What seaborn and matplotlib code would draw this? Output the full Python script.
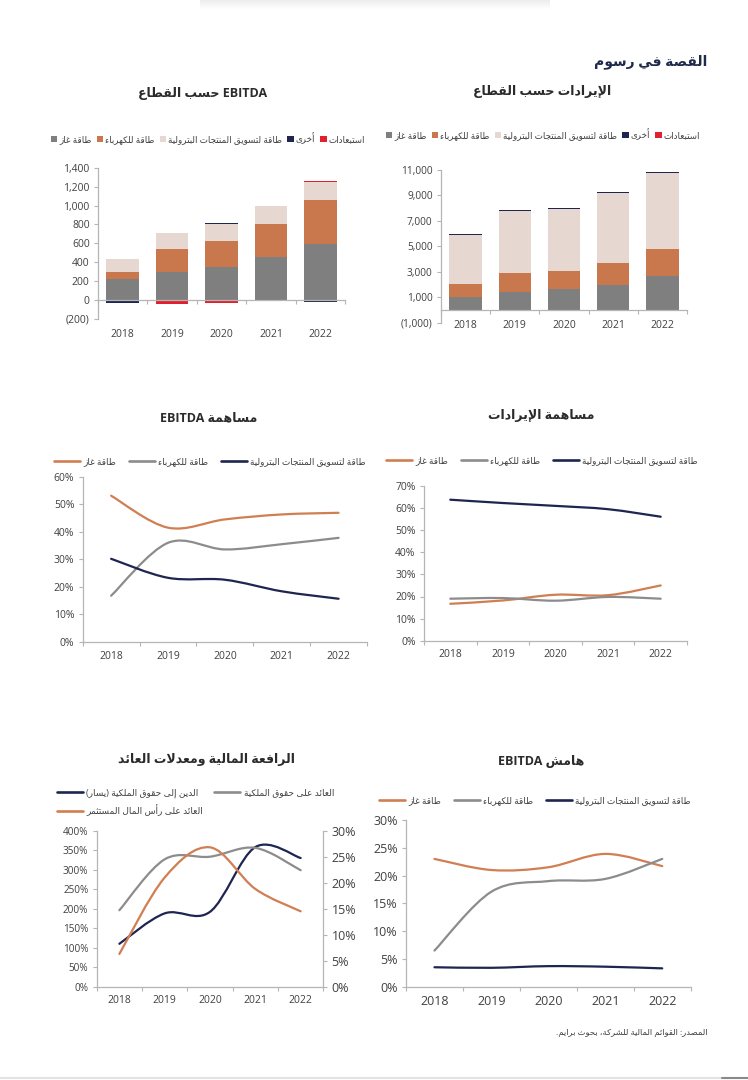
import numpy as np
import matplotlib
matplotlib.use('Agg')
import matplotlib.pyplot as plt
import seaborn as sns
from matplotlib.path import Path
from matplotlib.patches import PathPatch, Patch
from matplotlib.lines import Line2D
from matplotlib.ticker import FuncFormatter

# ---------------- data ----------------
years = ['2018', '2019', '2020', '2021', '2022']

# revenue by segment (mn)
rev_gas = [1000, 1390, 1650, 1970, 2650]
rev_elec = [1050, 1480, 1450, 1710, 2130]
rev_pet = [3870, 4890, 4840, 5530, 6000]
rev_other = [60, 70, 60, 60, 60]
rev_elim = [-60, -60, -60, -60, -60]

# EBITDA by segment (mn)
ebitda_gas = [225, 300, 355, 460, 590]
ebitda_elec = [75, 240, 270, 345, 470]
ebitda_pet = [135, 170, 180, 185, 190]
ebitda_other = [-35, 0, 10, 0, -20]
ebitda_elim = [0, -40, -30, 10, 10]

# contribution to revenue (%)
revc_gas = [16.7, 18.2, 20.8, 20.6, 25.0]
revc_elec = [19.0, 19.3, 18.1, 19.8, 19.0]
revc_pet = [63.8, 62.3, 61.0, 59.5, 56.1]

# contribution to EBITDA (%)
ebc_gas = [53.1, 41.5, 44.5, 46.3, 46.9]
ebc_elec = [16.8, 36.0, 33.6, 35.5, 37.8]
ebc_pet = [30.2, 23.3, 22.6, 18.4, 15.7]

# EBITDA margin (%)
margin_gas = [23.0, 21.0, 21.5, 23.9, 21.7]
margin_elec = [6.5, 17.1, 19.0, 19.4, 23.0]
margin_pet = [3.5, 3.4, 3.7, 3.6, 3.3]

# leverage and returns (%)
debt_equity = [110, 188, 192, 358, 330]
roe = [14.7, 24.5, 25.0, 26.7, 22.4]
roce = [6.3, 21.0, 26.8, 18.8, 14.5]

# labels (logical order)
lbl_gas = 'طاقة غاز'
lbl_elec = 'طاقة للكهرباء'
lbl_pet = 'طاقة لتسويق المنتجات البترولية'
lbl_other = 'أخرى'
lbl_elim = 'استبعادات'
lbl_de = 'الدين إلى حقوق الملكية (يسار)'
lbl_roe = 'العائد على حقوق الملكية'
lbl_roce = 'العائد على رأس المال المستثمر'

# ---------------- arabic shaping (matplotlib has no shaping) ----------------
DUAL = {'ئ': 0xFE89, 'ب': 0xFE8F, 'ت': 0xFE95, 'ث': 0xFE99, 'ج': 0xFE9D, 'ح': 0xFEA1,
        'خ': 0xFEA5, 'س': 0xFEB1, 'ش': 0xFEB5, 'ص': 0xFEB9, 'ض': 0xFEBD, 'ط': 0xFEC1,
        'ظ': 0xFEC5, 'ع': 0xFEC9, 'غ': 0xFECD, 'ف': 0xFED1, 'ق': 0xFED5, 'ك': 0xFED9,
        'ل': 0xFEDD, 'م': 0xFEE1, 'ن': 0xFEE5, 'ه': 0xFEE9, 'ي': 0xFEF1}
RIGHT = {'آ': 0xFE81, 'أ': 0xFE83, 'ؤ': 0xFE85, 'إ': 0xFE87, 'ا': 0xFE8D, 'ة': 0xFE93,
         'د': 0xFEA9, 'ذ': 0xFEAB, 'ر': 0xFEAD, 'ز': 0xFEAF, 'و': 0xFEED, 'ى': 0xFEEF}
LAMALEF = {'آ': 0xFEF5, 'أ': 0xFEF7, 'إ': 0xFEF9, 'ا': 0xFEFB}
MIRROR = {'(': ')', ')': '('}


def shape_word(word):
    out = []
    i, n = 0, len(word)
    while i < n:
        c = word[i]
        jp = i > 0 and word[i - 1] in DUAL
        if c == 'ل' and i + 1 < n and word[i + 1] in LAMALEF:
            out.append(chr(LAMALEF[word[i + 1]] + (1 if jp else 0)))
            i += 2
            continue
        if c in DUAL:
            nxt = word[i + 1] if i + 1 < n else ''
            jn = nxt in DUAL or nxt in RIGHT
            base = DUAL[c]
            out.append(chr(base + (3 if jp and jn else 1 if jp else 2 if jn else 0)))
        elif c in RIGHT:
            out.append(chr(RIGHT[c] + (1 if jp else 0)))
        else:
            out.append(MIRROR.get(c, c))
        i += 1
    return ''.join(reversed(out))


def ar(text):
    words = text.split(' ')
    if not any('\u0600' <= ch <= '\u06FF' for ch in text):
        return text
    vis = []
    for w in words:
        if any('\u0600' <= ch <= '\u06FF' for ch in w):
            vis.append(shape_word(w))
        else:
            vis.append(w)
    return ' '.join(reversed(vis))


# ---------------- style ----------------
sns.set_theme(style='white')
plt.rcParams['font.family'] = ['Open Sans', 'DejaVu Sans']

C_GAS = '#7F7F7F'
C_ELEC = '#C9774D'
C_PET = '#E6D8D1'
C_OTHER = '#1E2550'
C_ELIM = '#E21F2D'
L_ORANGE = '#D07E52'
L_GRAY = '#8C8C8C'
L_NAVY = '#1E2550'
SPINE = '#B5B5B5'
TXT = '#404040'
LW = 1.6

W, H = 748, 1080
fig = plt.figure(figsize=(W / 100, H / 100), dpi=100)
fig.patch.set_facecolor('white')


def add_ax(x0, x1, y0, y1):
    return fig.add_axes([x0 / W, 1 - y1 / H, (x1 - x0) / W, (y1 - y0) / H])


def fx(x):
    return x / W


def fy(y):
    return 1 - y / H


def style_ax(ax, xpad, xsize=7.5, ysize=7.5):
    for s in ['top', 'right']:
        ax.spines[s].set_visible(False)
    for s in ['left', 'bottom']:
        ax.spines[s].set_color(SPINE)
        ax.spines[s].set_linewidth(0.9)
    ax.set_xlim(-0.5, 4.5)
    ax.set_xticks(range(len(years)))
    ax.set_xticklabels(years)
    ax.set_xticks(np.arange(-0.5, len(years), 1), minor=True)
    ax.tick_params(axis='x', which='major', bottom=True, length=0, pad=xpad,
                   labelsize=xsize, labelcolor=TXT)
    ax.tick_params(axis='x', which='minor', bottom=True, length=3, width=0.8,
                   color=SPINE, direction='out')
    ax.tick_params(axis='y', which='major', left=True, length=3, width=0.8,
                   color=SPINE, direction='out', pad=3, labelsize=ysize, labelcolor=TXT)
    ax.set_facecolor('none')


def stacked_bars(ax, series, colors, width=0.66):
    x = np.arange(len(years))
    pos = np.zeros(len(years))
    neg = np.zeros(len(years))
    for vals, col in zip(series, colors):
        v = np.asarray(vals, dtype=float)
        bottom = np.where(v >= 0, pos, neg)
        ax.bar(x, v, width=width, bottom=bottom, color=col, linewidth=0, zorder=2)
        pos = pos + np.where(v >= 0, v, 0)
        neg = neg + np.where(v < 0, v, 0)


def smooth_line(ax, values, color, lw=LW):
    # excel-style smoothed line (bezier through the data points)
    y = np.asarray(values, dtype=float)
    x = np.arange(len(y), dtype=float)
    n = len(y)
    verts = [(x[0], y[0])]
    codes = [Path.MOVETO]
    for i in range(n - 1):
        p0 = max(i - 1, 0)
        p3 = min(i + 2, n - 1)
        c1 = (x[i] + (x[i + 1] - x[p0]) / 6, y[i] + (y[i + 1] - y[p0]) / 6)
        c2 = (x[i + 1] - (x[p3] - x[i]) / 6, y[i + 1] - (y[p3] - y[i]) / 6)
        verts += [c1, c2, (x[i + 1], y[i + 1])]
        codes += [Path.CURVE4] * 3
    ax.add_patch(PathPatch(Path(verts, codes), fill=False, edgecolor=color, lw=lw,
                           capstyle='round', joinstyle='round', zorder=3))


def thousands(v, _):
    if v < 0:
        return f'({abs(v):,.0f})'
    return f'{v:,.0f}'


def pct(v, _):
    return f'{v:.0f}%'


def title(x, y, text, size=9):
    fig.text(fx(x), fy(y), ar(text), ha='center', va='center', fontsize=size,
             fontweight='bold', color='#2B2B2B')


def bar_legend(ax, cx, cy):
    handles = [Patch(facecolor=c, edgecolor='none') for c in [C_GAS, C_ELEC, C_PET, C_OTHER, C_ELIM]]
    labels = [ar(t) for t in [lbl_gas, lbl_elec, lbl_pet, lbl_other, lbl_elim]]
    ax.legend(handles, labels, loc='center', bbox_to_anchor=(fx(cx), fy(cy)),
              bbox_transform=fig.transFigure, ncol=5, frameon=False, fontsize=6.3,
              handlelength=0.75, handleheight=0.75, handletextpad=0.25,
              columnspacing=0.55, labelcolor=TXT, borderpad=0)


def line_legend(ax, cx, cy, size=6.4):
    handles = [Line2D([], [], color=c, lw=LW + 0.3) for c in [L_ORANGE, L_GRAY, L_NAVY]]
    labels = [ar(t) for t in [lbl_gas, lbl_elec, lbl_pet]]
    ax.legend(handles, labels, loc='center', bbox_to_anchor=(fx(cx), fy(cy)),
              bbox_transform=fig.transFigure, ncol=3, frameon=False, fontsize=size,
              handlelength=2.9, handletextpad=0.4, columnspacing=1.4,
              labelcolor=TXT, borderpad=0)


# ---------------- header ----------------
fig.text(fx(707), fy(62), ar('القصة في رسوم'), ha='right', va='center', fontsize=10,
         fontweight='bold', color='#1F2A4A')

# ---------------- EBITDA by segment ----------------
ax1 = add_ax(98, 345, 167.7, 319)
stacked_bars(ax1, [ebitda_gas, ebitda_elec, ebitda_pet, ebitda_other, ebitda_elim],
             [C_GAS, C_ELEC, C_PET, C_OTHER, C_ELIM])
ax1.set_ylim(-200, 1400)
ax1.set_yticks(np.arange(-200, 1401, 200))
ax1.yaxis.set_major_formatter(FuncFormatter(thousands))
style_ax(ax1, xpad=21)
ax1.spines['bottom'].set_position(('data', 0))
title(203, 93, 'EBITDA حسب القطاع')
bar_legend(ax1, 208, 138)

# ---------------- revenue by segment ----------------
ax2 = add_ax(441, 687, 170, 322.7)
stacked_bars(ax2, [rev_gas, rev_elec, rev_pet, rev_other, rev_elim],
             [C_GAS, C_ELEC, C_PET, C_OTHER, C_ELIM])
ax2.set_ylim(-1000, 11000)
ax2.set_yticks(np.arange(-1000, 11001, 2000))
ax2.yaxis.set_major_formatter(FuncFormatter(thousands))
style_ax(ax2, xpad=7, ysize=7.3)
ax2.spines['bottom'].set_position(('data', 0))
title(542, 92, 'الإيرادات حسب القطاع')
bar_legend(ax2, 543, 134)

# ---------------- EBITDA contribution ----------------
ax3 = add_ax(82.7, 367, 476.7, 642)
for vals, col in [(ebc_gas, L_ORANGE), (ebc_elec, L_GRAY), (ebc_pet, L_NAVY)]:
    smooth_line(ax3, vals, col)
ax3.set_ylim(0, 60)
ax3.set_yticks(np.arange(0, 61, 10))
ax3.yaxis.set_major_formatter(FuncFormatter(pct))
style_ax(ax3, xpad=6.5)
title(209, 418, 'مساهمة EBITDA')
line_legend(ax3, 210, 462)

# ---------------- revenue contribution ----------------
ax4 = add_ax(424, 687, 486, 640.7)
for vals, col in [(revc_gas, L_ORANGE), (revc_elec, L_GRAY), (revc_pet, L_NAVY)]:
    smooth_line(ax4, vals, col)
ax4.set_ylim(0, 70)
ax4.set_yticks(np.arange(0, 71, 10))
ax4.yaxis.set_major_formatter(FuncFormatter(pct))
style_ax(ax4, xpad=6)
title(541, 416, 'مساهمة الإيرادات')
line_legend(ax4, 542, 461)

# ---------------- leverage & returns ----------------
ax5 = add_ax(96.7, 323.3, 830.7, 986.7)
ax5r = ax5.twinx()
smooth_line(ax5, debt_equity, L_NAVY)
smooth_line(ax5r, roe, L_GRAY)
smooth_line(ax5r, roce, L_ORANGE)
ax5.set_ylim(0, 400)
ax5.set_yticks(np.arange(0, 401, 50))
ax5.yaxis.set_major_formatter(FuncFormatter(pct))
style_ax(ax5, xpad=6, ysize=7.2)
ax5r.set_ylim(0, 30)
ax5r.set_yticks(np.arange(0, 31, 5))
ax5r.yaxis.set_major_formatter(FuncFormatter(pct))
for s in ['top', 'left', 'bottom']:
    ax5r.spines[s].set_visible(False)
ax5r.spines['right'].set_color(SPINE)
ax5r.spines['right'].set_linewidth(0.9)
ax5r.tick_params(axis='y', right=True, length=3, width=0.8, color=SPINE, pad=3,
                 labelsize=9, labelcolor=TXT)
ax5r.grid(False)
title(207, 760, 'الرافعة المالية ومعدلات العائد')
handles = [Line2D([], [], color=c, lw=LW + 0.3) for c in [L_NAVY, L_ORANGE, L_GRAY]]
labels = [ar(t) for t in [lbl_de, lbl_roce, lbl_roe]]
ax5.legend(handles, labels, loc='upper left', bbox_to_anchor=(fx(52), fy(784)),
           bbox_transform=fig.transFigure, ncol=2, frameon=False, fontsize=6.5,
           handlelength=2.9, handletextpad=0.4, columnspacing=1.2,
           labelcolor=TXT, borderpad=0, labelspacing=0.7)

# ---------------- EBITDA margin ----------------
ax6 = add_ax(406, 690.7, 820, 986.7)
for vals, col in [(margin_gas, L_ORANGE), (margin_elec, L_GRAY), (margin_pet, L_NAVY)]:
    smooth_line(ax6, vals, col)
ax6.set_ylim(0, 30)
ax6.set_yticks(np.arange(0, 31, 5))
ax6.yaxis.set_major_formatter(FuncFormatter(pct))
style_ax(ax6, xpad=6, xsize=9, ysize=9)
title(541, 761, 'هامش EBITDA')
line_legend(ax6, 535, 801)

# ---------------- source & page decoration ----------------
fig.text(fx(707), fy(1033), ar('المصدر: القوائم المالية للشركة، بحوث برايم.'),
         ha='right', va='center', fontsize=6, color=TXT)
fig.add_artist(Line2D([0, 1], [fy(1078), fy(1078)], transform=fig.transFigure,
                      color='#E3E3E3', lw=1.5))
fig.add_artist(Line2D([fx(722), 1], [fy(1078), fy(1078)], transform=fig.transFigure,
                      color='#8A8A8A', lw=1.5))
shade = fig.add_axes([fx(200), fy(10), fx(350), 10 / H])
grad = np.linspace(0.93, 1.0, 20).reshape(-1, 1)
shade.imshow(grad, cmap='gray', vmin=0, vmax=1, aspect='auto')
shade.axis('off')

fig.savefig('out.png', dpi=100, facecolor='white')
